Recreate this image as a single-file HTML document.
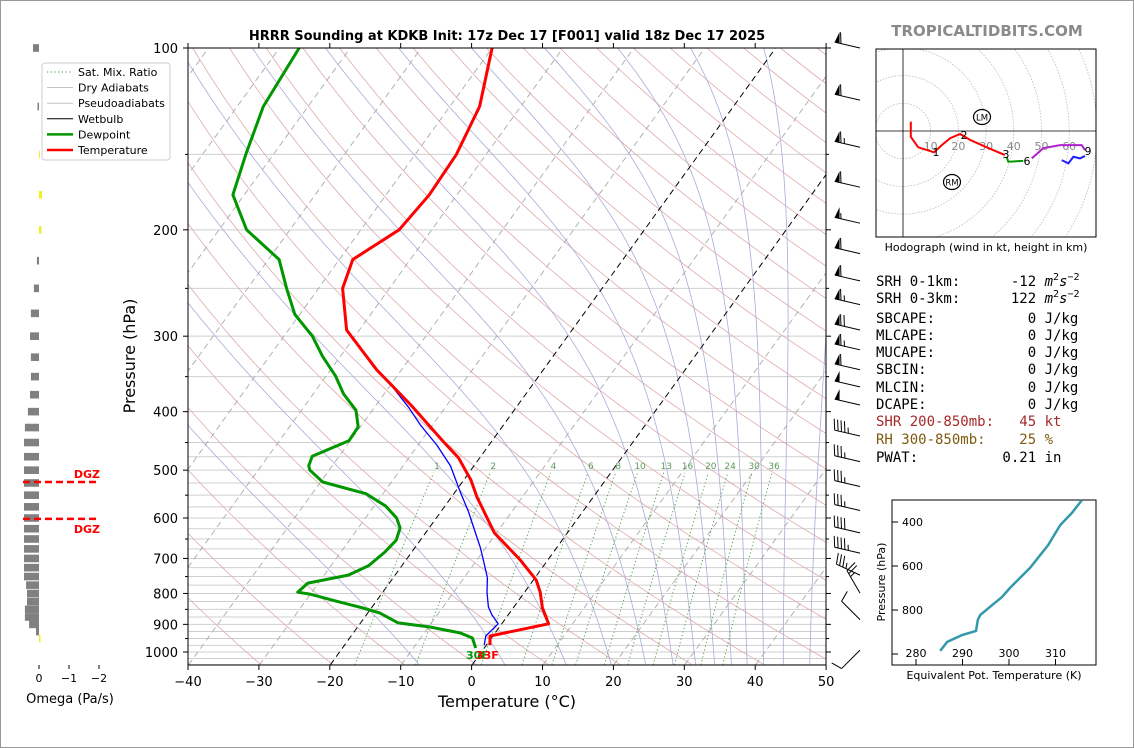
<!DOCTYPE html>
<html><head><meta charset="utf-8"><style>
html,body{margin:0;padding:0;background:#fff;}
svg{display:block;font-family:"DejaVu Sans","Liberation Sans",sans-serif;}
</style></head><body>
<svg id="chart" width="1134" height="748" viewBox="0 0 1134 748" xmlns="http://www.w3.org/2000/svg">
<rect x="0.5" y="0.5" width="1133" height="747" fill="#fff" stroke="#999"/>
<defs>
<clipPath id="plotclip"><rect x="188" y="48" width="638" height="617"/></clipPath>
<clipPath id="hodoclip"><rect x="876" y="49" width="220" height="188"/></clipPath>
<clipPath id="thclip"><rect x="892" y="500" width="204" height="165"/></clipPath>
</defs>
<text x="507" y="40" text-anchor="middle" font-size="13" font-weight="bold">HRRR Sounding at KDKB Init: 17z Dec 17 [F001] valid 18z Dec 17 2025</text>
<text x="987" y="36" text-anchor="middle" font-size="15" font-weight="bold" fill="#8a8a8a">TROPICALTIDBITS.COM</text>
<g id="bg" clip-path="url(#plotclip)"></g>
<g id="series" clip-path="url(#plotclip)"></g>
<g id="axes"></g>
<g id="barbs"></g>
<g id="omega"></g>
<g id="hodo"></g>
<g id="theta"></g>
<g id="stats" font-family="'DejaVu Sans Mono','Liberation Mono',monospace" font-size="14">
<text x="876" y="286" xml:space="preserve">SRH 0-1km:      -12 <tspan font-style="italic">m</tspan><tspan font-size="10" dy="-6">2</tspan><tspan font-style="italic" dy="6">s</tspan><tspan font-size="10" dy="-6">−2</tspan></text>
<text x="876" y="303" xml:space="preserve">SRH 0-3km:      122 <tspan font-style="italic">m</tspan><tspan font-size="10" dy="-6">2</tspan><tspan font-style="italic" dy="6">s</tspan><tspan font-size="10" dy="-6">−2</tspan></text>
<text x="876" y="323" xml:space="preserve">SBCAPE:           0 J/kg</text>
<text x="876" y="340" xml:space="preserve">MLCAPE:           0 J/kg</text>
<text x="876" y="357" xml:space="preserve">MUCAPE:           0 J/kg</text>
<text x="876" y="374" xml:space="preserve">SBCIN:            0 J/kg</text>
<text x="876" y="392" xml:space="preserve">MLCIN:            0 J/kg</text>
<text x="876" y="409" xml:space="preserve">DCAPE:            0 J/kg</text>
<text x="876" y="426" xml:space="preserve" fill="#a52a2a">SHR 200-850mb:   45 kt</text>
<text x="876" y="444" xml:space="preserve" fill="#7f5a10">RH 300-850mb:    25 %</text>
<text x="876" y="462" xml:space="preserve">PWAT:          0.21 in</text>
</g>
</svg>
<script>
// ---- data ----
const tempP=[974,941,898,845,796,760,704,635,554,519,477,449,390,341,293,250,224,200,175,150,125,100];
const tempT=[0.5,-0.4,6.6,4.1,2.2,0.4,-3.9,-10.3,-16.4,-19.0,-23.0,-26.7,-35.1,-43.5,-51.8,-56.6,-58.1,-54.6,-53.9,-54.2,-55.8,-60.0];
const dewP=[985,948,930,909,895,862,845,823,802,796,769,746,720,683,653,623,600,573,547,523,500,492,474,447,424,398,374,349,324,300,276,250,224,200,175,150,125,100];
const dewT=[-1.2,-2.7,-4.9,-9.8,-14.7,-18.3,-21.3,-25.8,-30.1,-32.0,-31.5,-26.6,-24.7,-23.8,-23.4,-24.1,-25.6,-28.4,-32.4,-39.7,-42.7,-43.3,-43.8,-40.2,-40.3,-42.3,-45.7,-48.7,-52.5,-56.0,-60.7,-64.5,-68.5,-76.1,-81.6,-83.9,-86.3,-87.2];
const wbP=[974,941,898,868,842,796,754,712,673,628,586,543,492,454,421,394,361,341,293,250,224,200,175,150,125,100];
const wbT=[-0.3,-1.0,-0.5,-2.3,-3.6,-5.3,-6.7,-8.7,-10.7,-13.4,-16.1,-19.3,-23.3,-27.4,-31.7,-35.1,-40.0,-43.5,-51.8,-56.6,-58.1,-54.6,-53.9,-54.2,-55.8,-60.0];
const barbP=[100,122,146,170,195,219,243,266,293,316,341,364,390,439,484,532,583,635,686,746,799,884,993];
const barbSpd=[60,60,65,60,55,60,60,65,70,65,60,50,50,45,35,35,35,40,45,35,25,10,10];
const barbDir=[283,283,283,283,283,283,283,283,283,283,283,283,283,283,283,283,283,283,283,295,330,315,225];
const omegaP=[100,125,150,175,200,225,250,275,300,325,350,375,400,425,450,475,500,525,550,575,600,625,650,675,700,725,750,775,800,825,850,875,900,925,950];
const omegaV=[0.2,0.05,-0.03,-0.1,-0.08,0.07,0.17,0.27,0.3,0.27,0.27,0.3,0.37,0.47,0.5,0.5,0.5,0.5,0.5,0.5,0.5,0.5,0.5,0.5,0.5,0.5,0.5,0.43,0.4,0.4,0.47,0.47,0.33,0.1,-0.05];
const dgzP=[523,602];
const hodoRedU=[2.8,2.8,5.5,11.2,14,17,20.6,24.2,30.2,36.8];
const hodoRedV=[3.4,-2.1,-5.9,-7.7,-5.1,-2.6,-1.1,-3.2,-5.9,-8.7];
const hodoGreenU=[37.4,38,43.4];
const hodoGreenV=[-9.3,-11.1,-10.8];
const hodoPurpleU=[46.5,50.6,56.7,64.5,65.7];
const hodoPurpleV=[-9.9,-6.2,-5.1,-5.1,-6.9];
const hodoBlueU=[57.3,59.7,61.5,63.9,65.7];
const hodoBlueV=[-10.5,-11.7,-9.3,-9.9,-9.0];
const thetaP=[986,945,914,895,845,823,786,741,700,609,505,414,359,300];
const thetaE=[285.2,286.7,289.9,292.9,293.3,293.8,295.9,298.5,300.2,304.5,308.4,311.0,313.5,315.7];
const mixRatios=[1,2,4,6,8,10,13,16,20,24,30,36];
const xTicks=[-40,-30,-20,-10,0,10,20,30,40,50];
const pMajor=[100,200,300,400,500,600,700,800,900,1000];
const pMinor=[150,250,350,450,550,650,750,850,950];

const NS='http://www.w3.org/2000/svg';
function mk(tag,attrs,parent){const e=document.createElementNS(NS,tag);for(const k in attrs)e.setAttribute(k,attrs[k]);parent.appendChild(e);return e;}
function pathD(pts){return pts.map((q,i)=>(i?'L':'M')+q[0].toFixed(1)+','+q[1].toFixed(1)).join('');}

// ---- axis functions ----
function py(p){return 48+(Math.log10(p)-2)*604;}
function tx(T,p){return 472+T*7.09+(665-py(p))*0.722;}

const bg=document.getElementById('bg'), ser=document.getElementById('series'), ax=document.getElementById('axes');

const hLevels=[];
for(let p=100;p<450;p+=50)hLevels.push(p);
for(let p=450;p<=1050;p+=25)hLevels.push(p);
hLevels.forEach(p=>{
  const l=mk('line',{x1:188,x2:826,y1:py(p),y2:py(p),stroke:'#cfcfcf','stroke-width':1},bg);
  
  
});
for(let th=230;th<=520;th+=10){
  const pts=[];for(let p=1050;p>=100;p-=10){const T=th*Math.pow(p/1000,0.2857)-273.15;pts.push([tx(T,p),py(p)]);}
  const e=mk('path',{d:pathD(pts),fill:'none',stroke:'#dfaaaa','stroke-width':0.8},bg);
  
  
}
function es(Tc){return 6.112*Math.exp(17.67*Tc/(Tc+243.5));}
function dTdp(T,p){const Tc=T-273.15;const e=es(Tc);const rs=0.622*e/Math.max(p-e,1);
  return (287*T+2.5e6*rs)/(p*(1004+2.5e6*2.5e6*rs*0.622/(287*T*T)));}
for(let T100=-135;T100<=-5;T100+=10.3){
  let T=T100+273.15;const pts=[];
  for(let p=100;p<=1050;p+=2){pts.push([tx(T-273.15,p),py(p)]);T+=dTdp(T,p)*2;}
  const e=mk('path',{d:pathD(pts),fill:'none',stroke:'#aaaadc','stroke-width':0.8},bg);
  
  
}
for(let T=-140;T<=50;T+=10){
  const black=(T===0||T===-20);
  const e=mk('line',{x1:tx(T,1050),y1:py(1050),x2:tx(T,100),y2:py(100),stroke:black?'#000':'#aaa','stroke-width':black?1:0.9,'stroke-dasharray':'6,4'},bg);
  
  
}
mixRatios.forEach(w=>{
  const pts=[];for(let p=1050;p>=505;p-=5){const e=w*p/(622+w);const x=Math.log(e/6.112);const Td=243.5*x/(17.67-x);pts.push([tx(Td,p),py(p)]);}
  const l=mk('path',{d:pathD(pts),fill:'none',stroke:'#3c9a3c','stroke-width':0.9,'stroke-dasharray':'1.2,2.5'},bg);
  
  
  const pl=490;const e=w*pl/(622+w);const x=Math.log(e/6.112);const Td=243.5*x/(17.67-x);
  const t=mk('text',{x:tx(Td,pl),y:py(pl)+4,'text-anchor':'middle','font-size':9,fill:'#5a9a5a'},bg);
  t.textContent=w;
  
  
});
function profile(P,T,color,width){
  const pts=P.map((p,i)=>[tx(T[i],p),py(p)]);
  return mk('path',{d:pathD(pts),fill:'none',stroke:color,'stroke-width':width,'stroke-linejoin':'round'},ser);
}
const wb=profile(wbP,wbT,'#0000ff',1.3);


const dw=profile(dewP,dewT,'#009600',3);


const tp=profile(tempP,tempT,'#ff0000',3);


const sfcD=mk('text',{x:466,y:659,'font-size':11,'font-weight':'bold',fill:'#009600'},ser);
sfcD.textContent='30F';


const sfcT=mk('text',{x:476,y:659,'font-size':11,'font-weight':'bold',fill:'#ff0000'},ser);
sfcT.textContent='33F';



const fr=mk('rect',{x:188,y:48,width:638,height:617,fill:'none',stroke:'#000','stroke-width':1},ax);


xTicks.forEach(T=>{
  const x=188+(T+40)*7.09;
  const l=mk('line',{x1:x,x2:x,y1:665,y2:670,stroke:'#000'},ax);
  
  
  const t=mk('text',{x:x,y:686,'text-anchor':'middle','font-size':13},ax);
  t.textContent=(T<0?'−'+(-T):T);
  
  
  const l2=mk('line',{x1:x,x2:x,y1:48,y2:43,stroke:'#000'},ax);
  
  
});
pMajor.forEach(p=>{
  const y=py(p);
  const l=mk('line',{x1:183,x2:188,y1:y,y2:y,stroke:'#000'},ax);
  
  
  const r=mk('line',{x1:826,x2:831,y1:y,y2:y,stroke:'#000'},ax);
  
  
  const t=mk('text',{x:178,y:y+5,'text-anchor':'end','font-size':13},ax);
  t.textContent=p;
  
  
});
pMinor.forEach(p=>{
  const y=py(p);
  const l=mk('line',{x1:185,x2:188,y1:y,y2:y,stroke:'#000'},ax);
  
  
  const r=mk('line',{x1:826,x2:829,y1:y,y2:y,stroke:'#000'},ax);
  
  
});
const xl=mk('text',{x:507,y:707,'text-anchor':'middle','font-size':16},ax);
xl.textContent='Temperature (°C)';


const yl=mk('text',{x:0,y:0,'text-anchor':'middle','font-size':16,transform:'translate(135,356) rotate(-90)'},ax);
yl.textContent='Pressure (hPa)';



const lg=mk('g',{},ax);


mk('rect',{x:42,y:63,width:128,height:97,rx:3,fill:'#fff',stroke:'#ccc'},lg);
const legItems=[['Sat. Mix. Ratio','#3c9a3c',0.9,'1.2,2.5'],['Dry Adiabats','#bbb',0.9,''],['Pseudoadiabats','#bbb',0.9,''],['Wetbulb','#000',1,''],['Dewpoint','#009600',2.5,''],['Temperature','#ff0000',2.5,'']];
legItems.forEach((it,i)=>{
  const y=72+i*15.6;
  const l=mk('line',{x1:47,x2:73,y1:y,y2:y,stroke:it[1],'stroke-width':it[2],'stroke-dasharray':it[3]||'none'},lg);
  
  
  const t=mk('text',{x:78,y:y+4,'font-size':11},lg);
  t.textContent=it[0];
  
  
});

const bgp=document.getElementById('barbs');
barbP.forEach((p,i)=>{
  const bx=860, by=py(p);
  const d=barbDir[i]*Math.PI/180;
  const sx=Math.sin(d), sy=-Math.cos(d);
  const nx=-sy, ny=sx;
  const L=26, fl=11, sp=3.5;
  const g=mk('g',{},bgp);
  
  
  mk('line',{x1:bx,y1:by,x2:bx+sx*L,y2:by+sy*L,stroke:'#000','stroke-width':1},g);
  let s=Math.round(barbSpd[i]/5)*5, pos=L;
  while(s>=50){
    const ax1=bx+sx*pos, ay1=by+sy*pos, ax2=bx+sx*(pos-5), ay2=by+sy*(pos-5);
    const cx=bx+sx*(pos-2.5)+nx*fl, cy=by+sy*(pos-2.5)+ny*fl;
    mk('polygon',{points:`${ax1},${ay1} ${cx},${cy} ${ax2},${ay2}`,fill:'#000'},g);
    pos-=6.5; s-=50;
  }
  while(s>=10){
    mk('line',{x1:bx+sx*pos,y1:by+sy*pos,x2:bx+sx*(pos+3)+nx*fl,y2:by+sy*(pos+3)+ny*fl,stroke:'#000','stroke-width':1},g);
    pos-=sp; s-=10;
  }
  if(s>=5){
    if(pos===L)pos-=sp;
    mk('line',{x1:bx+sx*pos,y1:by+sy*pos,x2:bx+sx*(pos+1.5)+nx*fl/2,y2:by+sy*(pos+1.5)+ny*fl/2,stroke:'#000','stroke-width':1},g);
  }
});

const og=document.getElementById('omega');
function ox(v){return 39-v*30;}
omegaP.forEach((p,i)=>{
  const v=omegaV[i];const x0=ox(0),x1=ox(v);
  const r=mk('rect',{x:Math.min(x0,x1),y:py(p)-3.8,width:Math.max(Math.abs(x1-x0),0.8),height:7.6,fill:v>=0?'#808080':'#f0f020'},og);
  
  
});
dgzP.forEach((p,i)=>{
  const y=py(p);
  const l=mk('line',{x1:23,x2:99,y1:y,y2:y,stroke:'#ff0000','stroke-width':2.5,'stroke-dasharray':'7,4'},og);
  
  
  const t=mk('text',{x:100,y:i===0?y-4:y+14,'text-anchor':'end','font-size':11,'font-weight':'bold',fill:'#ff0000'},og);
  t.textContent='DGZ';
  
  
});
[0,-1,-2].forEach(v=>{
  const x=ox(v);
  const l=mk('line',{x1:x,x2:x,y1:665,y2:669,stroke:'#000'},og);
  
  
  const t=mk('text',{x:x,y:682,'text-anchor':'middle','font-size':11},og);
  t.textContent=v===0?'0':'−'+(-v);
  
  
});
const ol=mk('text',{x:70,y:703,'text-anchor':'middle','font-size':13},og);
ol.textContent='Omega (Pa/s)';



const hg=document.getElementById('hodo');
const HX=903, HY=131, HS=2.77;
function hx(u){return HX+u*HS;} function hy(v){return HY-v*HS;}
const hin=mk('g',{'clip-path':'url(#hodoclip)'},hg);
for(let r=10;r<=80;r+=10){
  const c=mk('circle',{cx:HX,cy:HY,r:r*HS,fill:'none',stroke:'#bbb','stroke-width':0.8,'stroke-dasharray':'1.5,1.5'},hin);
  
  
}
mk('line',{x1:876,x2:1096,y1:HY,y2:HY,stroke:'#000','stroke-width':0.8},hin);
mk('line',{x1:HX,x2:HX,y1:49,y2:237,stroke:'#000','stroke-width':0.8},hin);
for(let r=10;r<=60;r+=10){
  const t=mk('text',{x:hx(r),y:HY+19,'text-anchor':'middle','font-size':11,fill:'#888'},hin);
  t.textContent=r;
  
  
}
[[hodoRedU,hodoRedV,'#ff0000','hodograph-0-3km'],[hodoGreenU,hodoGreenV,'#009600','hodograph-3-6km'],[hodoPurpleU,hodoPurpleV,'#b020d0','hodograph-6-9km'],[hodoBlueU,hodoBlueV,'#2020ff','hodograph-9-12km']].forEach(s=>{
  const e=mk('path',{d:pathD(s[0].map((u,i)=>[hx(u),hy(s[1][i])])),fill:'none',stroke:s[2],'stroke-width':2},hin);
  
  
});
[['1',936,156],['2',964,139],['3',1006,158],['6',1027,165],['9',1088,155]].forEach(h=>{
  const t=mk('text',{x:h[1],y:h[2],'text-anchor':'middle','font-size':11},hin);
  t.textContent=h[0];
  
  
});
[['LM',982,117],['RM',952,182]].forEach(m=>{
  const c=mk('ellipse',{cx:m[1],cy:m[2],rx:8.5,ry:7.5,fill:'#fff',stroke:'#000','stroke-width':1.2},hin);
  
  
  const t=mk('text',{x:m[1],y:m[2]+3.5,'text-anchor':'middle','font-size':8.5},hin);
  t.textContent=m[0];
  
  
});
const hf=mk('rect',{x:876,y:49,width:220,height:188,fill:'none',stroke:'#000'},hg);


const hc=mk('text',{x:986,y:251,'text-anchor':'middle','font-size':11},hg);
hc.textContent='Hodograph (wind in kt, height in km)';



const tg=document.getElementById('theta');
function thX(k){return 916+(k-280)*4.65;} function thY(p){return 522+(p-400)*0.22;}
const tf=mk('rect',{x:892,y:500,width:204,height:165,fill:'none',stroke:'#000'},tg);


const thLine=mk('path',{d:pathD(thetaP.map((p,i)=>[thX(thetaE[i]),thY(p)])),fill:'none',stroke:'#3399aa','stroke-width':2.5,'clip-path':'url(#thclip)'},tg);


[400,600,800,1000].forEach(p=>{
  const y=thY(p);
  const l=mk('line',{x1:892,x2:898,y1:y,y2:y,stroke:'#000'},tg);
  
  
  if(p<1000){const t=mk('text',{x:923,y:y+4,'text-anchor':'end','font-size':11},tg);
  t.textContent=p;
  
  }
});
[280,290,300,310].forEach(k=>{
  const x=thX(k);
  const l=mk('line',{x1:x,x2:x,y1:665,y2:659,stroke:'#000'},tg);
  
  
  const t=mk('text',{x:x,y:657,'text-anchor':'middle','font-size':11},tg);
  t.textContent=k;
  
  
});
const tx1=mk('text',{x:994,y:679,'text-anchor':'middle','font-size':11},tg);
tx1.textContent='Equivalent Pot. Temperature (K)';


const ty1=mk('text',{x:0,y:0,'text-anchor':'middle','font-size':11,transform:'translate(885,582) rotate(-90)'},tg);
ty1.textContent='Pressure (hPa)';


</script>
</body></html>
